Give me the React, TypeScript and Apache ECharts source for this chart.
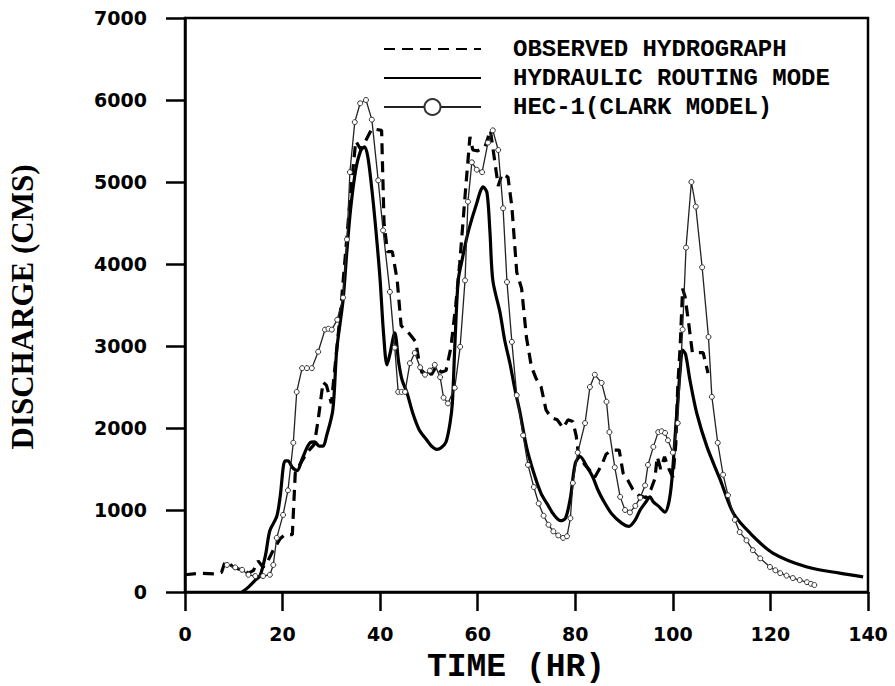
import React, { useEffect, useRef } from "react";
import * as echarts from "echarts";

// ---- data ----
const obsT = [0, 3, 6, 7.5, 8.2, 9, 10, 11, 12, 13, 14, 15, 16, 17, 18, 19.5, 20.5, 22, 22.6, 23.5, 25, 26.5, 27.3, 28.3, 29, 30, 31, 32, 33, 34, 35, 36, 37, 38.3, 40.3, 40.8, 41.5, 42.5, 43.5, 44.3, 45, 46, 47.3, 48, 48.6, 49.5, 50.5, 51.5, 52.5, 53.5, 54.5, 55.5, 56.3, 57.5, 58.4, 59, 60, 61.5, 62.6, 63.5, 64.2, 65, 66.2, 67, 68, 69, 70, 71, 72, 73, 74, 75, 76.3, 77.5, 78.5, 79.5, 80.2, 80.7, 82, 83, 84, 85.5, 86.3, 87.5, 89, 89.8, 90.8, 91.8, 93, 94.5, 95.5, 96.3, 96.8, 97.5, 98.3, 99.2, 100, 100.6, 101, 101.5, 102, 102.5, 103.3, 104, 106.2, 107.2];
const obsQ = [210, 230, 220, 240, 370, 350, 300, 280, 260, 230, 260, 380, 300, 380, 500, 650, 700, 700, 1450, 1550, 1700, 1800, 2100, 2560, 2520, 2300, 2900, 3500, 4200, 4900, 5500, 5400, 5500, 5650, 5630, 4500, 4150, 4150, 3800, 3250, 3200, 3150, 3050, 2800, 2670, 2720, 2650, 2750, 2680, 2700, 2980, 3500, 4000, 4900, 5550, 5390, 5380, 5430, 5630, 5250, 4950, 5100, 5060, 4700, 3900, 3700, 3100, 2750, 2600, 2500, 2220, 2130, 2100, 2000, 2100, 2080, 1900, 1650, 1550, 1480, 1400, 1560, 1680, 1730, 1730, 1450, 1360, 1250, 1180, 1150, 1250, 1380, 1650, 1500, 1650, 1500, 1400, 1800, 2500, 3000, 3700, 3600, 3250, 2920, 2920, 2670];

const hydT = [11.7, 13, 14.5, 15.4, 16.5, 17.4, 18.8, 19.5, 20.5, 21.1, 22, 23, 24, 25.6, 26.6, 27.5, 28.3, 29, 30.3, 31.1, 32.4, 33.2, 34, 35, 36, 36.8, 37.5, 38.5, 39.3, 40, 40.7, 41.4, 42, 43, 43.8, 44.5, 45.5, 46.7, 48, 49.6, 50.5, 51.6, 52.5, 53.5, 54.3, 54.8, 55.3, 56, 56.8, 57.8, 58.8, 59.8, 60.5, 61.1, 61.9, 62.5, 63.1, 64.6, 65.5, 66.6, 67.6, 68.7, 70, 71.5, 73, 74.4, 75.5, 77, 78, 79, 80, 81, 82.4, 83.6, 84.6, 85.7, 87.5, 89.5, 91, 92.3, 93.3, 94.5, 95.3, 96, 97, 98.4, 99.2, 99.8, 100.8, 101.5, 102, 102.6, 103.5, 104.9, 107, 109.7, 112.4, 115.8, 120.5, 127.5, 134.2, 139];
const hydQ = [0, 60, 150, 200, 450, 750, 920, 1160, 1600, 1600, 1520, 1480, 1620, 1820, 1830, 1780, 1780, 1900, 2220, 2950, 3560, 4170, 4700, 5150, 5380, 5430, 5300, 4800, 4300, 3800, 3150, 2770, 2900, 3160, 2800, 2585, 2430, 2180, 1980, 1850, 1780, 1740, 1760, 1830, 2050, 2300, 2990, 3800, 4050, 4330, 4550, 4740, 4880, 4940, 4870, 4400, 3800, 3400, 3080, 2790, 2480, 2180, 1770, 1450, 1200, 1060, 950, 870, 900, 1150, 1570, 1650, 1525, 1400, 1250, 1120, 950, 840, 800, 880, 1000, 1100, 1160, 1100, 1050, 975, 1100, 1370, 2180, 2700, 2950, 2900, 2585, 2180, 1770, 1370, 960, 720, 475, 305, 230, 185];

const hecT = [8.6, 10.3, 11.7, 13, 14.4, 16, 17.4, 18.1, 18.8, 20.1, 21.1, 22.2, 22.9, 24, 25, 26, 27.3, 28.7, 29.4, 30.1, 31.2, 32.4, 33.2, 33.8, 34.8, 35.9, 37.1, 38.3, 39.6, 40.6, 42, 43, 43.7, 44.4, 45.1, 46.1, 47.1, 48.2, 49.2, 50.2, 51.2, 52.3, 53, 53.9, 55.3, 56.4, 57.4, 58, 58.8, 59.8, 60.9, 62.1, 63.1, 64.2, 65.2, 66, 67, 68, 69.3, 70.3, 71.5, 72.5, 73.5, 74.5, 75.5, 76.5, 77.5, 78.3, 79, 79.5, 80.5, 82, 83, 84, 85.4, 86.4, 87, 88.1, 89.2, 90.2, 91.2, 92.3, 93.3, 94.3, 94.9, 96, 97, 97.7, 98.4, 99, 100, 101, 102, 102.7, 103.8, 104.7, 106, 107.3, 108, 109.2, 110.3, 111.3, 112.7, 113.7, 115.1, 116.4, 117.9, 119.9, 121, 122, 123.3, 124.6, 126, 127.5, 128.3, 129];
const hecQ = [330, 300, 270, 210, 195, 195, 210, 330, 660, 940, 1240, 1820, 2440, 2730, 2730, 2730, 2930, 3200, 3210, 3200, 3320, 3590, 4300, 5120, 5730, 5960, 6000, 5760, 5020, 4410, 3660, 2980, 2440, 2440, 2440, 2790, 2915, 2740, 2650, 2700, 2770, 2620, 2370, 2300, 2490, 2990, 3800, 4760, 5240, 5150, 5120, 5480, 5630, 5390, 4680, 3780, 3050, 2400, 1910, 1550, 1280, 1080, 930, 820, 740, 690, 660, 680, 900, 1330, 1700, 2060, 2500, 2650, 2550, 2320, 1950, 1520, 1160, 1000, 970, 1050, 1150, 1300, 1550, 1770, 1950, 1960, 1940, 1850, 1700, 2060, 3200, 4200, 5000, 4700, 3960, 3110, 2380, 1820, 1430, 1180, 880, 730, 630, 510, 410, 305, 265, 230, 200, 170, 145, 120, 100, 85];

const seriesNames = ["OBSERVED HYDROGRAPH", "HYDRAULIC ROUTING MODE", "HEC-1(CLARK MODEL)"];
const xTitle = "TIME (HR)";
const yTitle = "DISCHARGE (CMS)";
const xMin = 0, xMax = 140, xStep = 20;
const yMin = 0, yMax = 7000, yStep = 1000;

const zip = (t: number[], q: number[]) => t.map((v, i) => [v, q[i]]);

export default function App() {
  const ref = useRef<HTMLDivElement>(null);
  useEffect(() => {
    const chart = echarts.init(ref.current!, null, { renderer: "svg" });
    const axisCommon = {
      axisLine: { show: true, onZero: false, lineStyle: { color: "#000", width: 2.5 } },
      axisTick: { show: true, inside: false, length: 19, lineStyle: { color: "#000", width: 2.5 } },
      splitLine: { show: false },
    };
    const tickFont = { color: "#000", fontFamily: "DejaVu Sans", fontWeight: "bold" as const, fontSize: 19 };
    chart.setOption({
      animation: false,
      backgroundColor: "#fff",
      grid: { left: 185, right: 27, top: 18, bottom: 94, show: true, borderColor: "#000", borderWidth: 2.5, backgroundColor: "transparent" },
      xAxis: {
        type: "value", min: xMin, max: xMax, interval: xStep,
        ...axisCommon,
        axisLabel: { ...tickFont, margin: 32, formatter: (v: number) => String(v) },
      },
      yAxis: {
        type: "value", min: yMin, max: yMax, interval: yStep,
        ...axisCommon,
        axisLabel: { ...tickFont, margin: 38, formatter: (v: number) => String(v) },
      },
      legend: {
        orient: "vertical",
        left: 378,
        top: 32,
        itemWidth: 97,
        itemHeight: 20,
        itemGap: 5,
        selectedMode: false,
        textStyle: { fontFamily: "Liberation Mono", fontWeight: "bold", fontSize: 24, color: "#000", padding: [0, 0, 0, 27] },
        data: [
          { name: seriesNames[0], itemStyle: { opacity: 0 } },
          { name: seriesNames[1], itemStyle: { opacity: 0 } },
          { name: seriesNames[2] },
        ],
      },
      graphic: [
        {
          type: "text", x: 516, y: 667,
          style: { text: xTitle, fill: "#000", font: 'bold 33px "Liberation Mono"', align: "center", verticalAlign: "middle" },
        },
        {
          type: "text", x: 22, y: 307, rotation: Math.PI / 2,
          style: { text: yTitle, fill: "#000", font: 'bold 31px "Liberation Serif"', align: "center", verticalAlign: "middle" },
        },
      ],
      series: [
        {
          name: seriesNames[0], type: "line", data: zip(obsT, obsQ), symbol: "none",
          lineStyle: { color: "#000", width: 3.2, type: [11, 7] },
          z: 2,
        },
        {
          name: seriesNames[1], type: "line", data: zip(hydT, hydQ), symbol: "none", smooth: 0.3,
          lineStyle: { color: "#000", width: 3.2 },
          z: 3,
        },
        {
          name: seriesNames[2], type: "line", data: zip(hecT, hecQ),
          symbol: "circle", symbolSize: 5, showAllSymbol: true,
          itemStyle: { color: "#fff", borderColor: "#333", borderWidth: 1 },
          lineStyle: { color: "#222", width: 1.3 },
          z: 4,
        },
      ],
    });
    return () => chart.dispose();
  }, []);
  return <div ref={ref} style={{ position: "fixed", left: 0, top: 0, width: 895, height: 686, background: "#fff" }} />;
}
